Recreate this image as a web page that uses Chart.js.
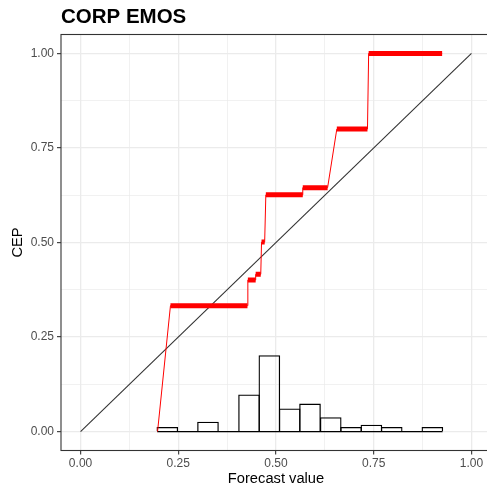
<!DOCTYPE html>
<html>
<head>
<meta charset="utf-8">
<script src="https://cdn.jsdelivr.net/npm/chart.js@4.4.1/dist/chart.umd.min.js"></script>
<style>
  html, body { margin: 0; padding: 0; background: #fff; overflow: hidden; }
  #wrap { width: 491px; height: 486px; }
</style>
</head>
<body>
<div id="wrap"><canvas id="chart" width="491" height="486"></canvas></div>
<script>
// histogram of the forecast values (bin centres and scaled heights)
const binWidth = 0.0522;
const binCenters = [0.222, 0.274, 0.326, 0.379, 0.431, 0.483, 0.535, 0.587, 0.640, 0.692, 0.744, 0.796, 0.848, 0.900];
const binHeights = [0.012, 0, 0.026, 0, 0.098, 0.202, 0.061, 0.074, 0.038, 0.012, 0.018, 0.012, 0, 0.012];

// PAV blocks of the CORP curve: forecast range and CEP of each block
const firstForecast = 0.197;
const blockStart = [0.230, 0.428, 0.448, 0.463, 0.474, 0.5685, 0.6556, 0.737];
const blockEnd   = [0.427, 0.448, 0.461, 0.471, 0.5685, 0.632, 0.734, 0.925];
const blockCep   = [0.333, 0.401, 0.416, 0.501, 0.626, 0.645, 0.800, 1.000];

const diagonal = [0, 1];
const axisTicks = [0, 0.25, 0.5, 0.75, 1];

const FONT = 'Liberation Sans, Arial, Helvetica, sans-serif';
const isMajor = v => axisTicks.some(t => Math.abs(t - v) < 1e-9);

// thin line through every point, thick segment for each block
const thinLine = [{ x: firstForecast, y: 0 }];
const thickLine = [];
blockCep.forEach((cep, i) => {
    thinLine.push({ x: blockStart[i], y: cep }, { x: blockEnd[i], y: cep });
    thickLine.push({ x: blockStart[i], y: cep }, { x: blockEnd[i], y: cep }, { x: blockEnd[i], y: null });
});

const histBars = binCenters.map((c, i) => ({ x: c, y: binHeights[i] }));
const histBase = [
    { x: binCenters[0] - binWidth / 2, y: 0 },
    { x: binCenters[binCenters.length - 1] + binWidth / 2, y: 0 }
];

const panelFrame = {
    id: 'panelFrame',
    afterDraw(chart) {
        const { ctx, chartArea: a } = chart;
        ctx.save();
        ctx.strokeStyle = '#333333';
        ctx.lineWidth = 1.1;
        ctx.strokeRect(a.left, a.top, a.right - a.left, a.bottom - a.top);
        ctx.fillStyle = '#000';
        ctx.font = 'bold 20.5px ' + FONT;
        ctx.textBaseline = 'alphabetic';
        ctx.textAlign = 'left';
        ctx.fillText('CORP EMOS', a.left, 23);
        ctx.restore();
    }
};

function axisOptions(isX) {
    return {
        type: 'linear',
        min: -0.05,
        max: 1.05,
        offset: false,
        afterFit: s => { if (isX) s.height = 35.5; else s.width = 61; },
        border: { display: false },
        grid: {
            offset: false,
            color: '#EBEBEB',
            lineWidth: c => (c.tick && isMajor(c.tick.value)) ? 1.3 : 0.7,
            tickLength: 4,
            tickWidth: 1.1,
            tickColor: c => (c.tick && isMajor(c.tick.value)) ? '#333333' : 'rgba(0,0,0,0)'
        },
        ticks: {
            stepSize: 0.125,
            includeBounds: false,
            autoSkip: false,
            maxRotation: 0,
            padding: isX ? 2 : 3,
            color: '#4D4D4D',
            font: { family: FONT, size: 12 },
            callback: v => isMajor(v) ? v.toFixed(2) : ''
        },
        title: {
            display: true,
            text: isX ? 'Forecast value' : 'CEP',
            color: '#000',
            font: { family: FONT, size: 14.7, lineHeight: isX ? 0.95 : 1.2 },
            padding: isX ? { top: 0, bottom: 0 } : { top: 9.5, bottom: 0 }
        }
    };
}

new Chart(document.getElementById('chart'), {
    type: 'line',
    data: {
        datasets: [
            {
                type: 'line', data: thickLine, borderColor: '#FF0000', borderWidth: 5,
                pointRadius: 0, spanGaps: false, borderCapStyle: 'butt', order: 0
            },
            {
                type: 'line', data: thinLine, borderColor: '#FF0000', borderWidth: 1,
                pointRadius: 0, order: 1
            },
            {
                type: 'line', data: diagonal.map(v => ({ x: v, y: v })), borderColor: '#333333',
                borderWidth: 1.1, pointRadius: 0, order: 2
            },
            {
                type: 'line', data: histBase, borderColor: '#000', borderWidth: 1.3,
                pointRadius: 0, order: 3
            },
            {
                type: 'bar', data: histBars, backgroundColor: 'rgba(0,0,0,0)', borderColor: '#000',
                borderWidth: 1.3, borderSkipped: 'start', barPercentage: 1.065, categoryPercentage: 1, order: 4
            }
        ]
    },
    options: {
        responsive: false,
        animation: false,
        devicePixelRatio: 1,
        events: [],
        layout: { padding: { top: 34.5, left: 0, right: 0, bottom: 0 } },
        plugins: { legend: { display: false }, tooltip: { enabled: false }, title: { display: false } },
        scales: {
            x: axisOptions(true),
            y: axisOptions(false)
        }
    },
    plugins: [panelFrame]
});
</script>
</body>
</html>
